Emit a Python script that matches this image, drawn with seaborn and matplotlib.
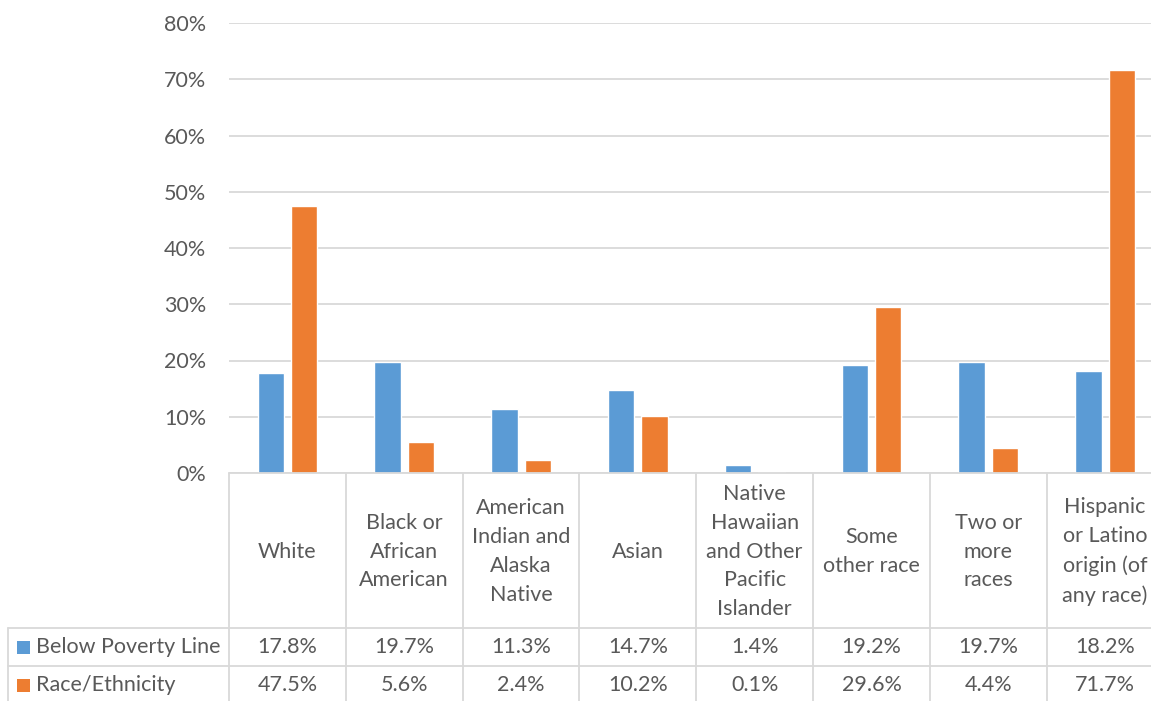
import matplotlib
matplotlib.use("Agg")
import matplotlib.pyplot as plt
from matplotlib.lines import Line2D
from matplotlib.patches import Rectangle
from matplotlib.ticker import PercentFormatter
import pandas as pd
import seaborn as sns

# Data
categories = [
    "White",
    "Black or\nAfrican\nAmerican",
    "American\nIndian and\nAlaska\nNative",
    "Asian",
    "Native\nHawaiian\nand Other\nPacific\nIslander",
    "Some\nother race",
    "Two or\nmore\nraces",
    "Hispanic\nor Latino\norigin (of\nany race)",
]
series_names = ["Below Poverty Line", "Race/Ethnicity"]
below_poverty = [17.8, 19.7, 11.3, 14.7, 1.4, 19.2, 19.7, 18.2]
race_ethnicity = [47.5, 5.6, 2.4, 10.2, 0.1, 29.6, 4.4, 71.7]
y_ticks = [0, 10, 20, 30, 40, 50, 60, 70, 80]

colors = ["#5B9BD5", "#ED7D31"]
text_color = "#595959"
line_color = "#D9D9D9"

df = pd.DataFrame({
    "category": categories * 2,
    "series": [series_names[0]] * len(categories) + [series_names[1]] * len(categories),
    "value": below_poverty + race_ethnicity,
})

sns.set_theme(style="white")
plt.rcParams["font.family"] = ["Lato", "DejaVu Sans"]
FS = 15.5

W, H = 1151, 701
fig = plt.figure(figsize=(W / 100, H / 100), dpi=100)
fig.patch.set_facecolor("white")

# Plot area (the last column runs past the right edge of the figure)
left_px, right_px, top_px, zero_px = 229, 1163.5, 23, 473
ax = fig.add_axes([left_px / W, 1 - zero_px / H, (right_px - left_px) / W, (zero_px - top_px) / H])

sns.barplot(
    data=df, x="category", y="value", hue="series", order=categories,
    hue_order=series_names, palette=colors, width=0.572, gap=0.21,
    saturation=1, legend=False, ax=ax,
)

ax.set_ylim(0, 80)
ax.set_xlim(-0.5, len(categories) - 0.5)
ax.set_yticks(y_ticks)
ax.yaxis.set_major_formatter(PercentFormatter(decimals=0))
ax.set_xticks([])
ax.set_xlabel("")
ax.set_ylabel("")
ax.tick_params(axis="y", length=0, pad=16.5, labelsize=FS, labelcolor=text_color)
for s in ax.spines.values():
    s.set_visible(False)
ax.yaxis.grid(True, color=line_color, linewidth=1.3)
ax.set_axisbelow(True)


def fy(py):
    return 1 - py / H


def fx(data_x):
    return (left_px + (data_x + 0.5) * (right_px - left_px) / len(categories)) / W


# Data table below the plot
row1_top, row2_top, row2_bot = 628, 666, 704
table_left = 8
lines = []
for i in range(len(categories) + 1):
    x = fx(i - 0.5)
    lines.append(Line2D([x, x], [fy(zero_px), fy(row2_bot)]))
lines.append(Line2D([table_left / W, table_left / W], [fy(row1_top), fy(row2_bot)]))
lines.append(Line2D([left_px / W, fx(len(categories) - 0.5)], [fy(zero_px), fy(zero_px)]))
for py in (row1_top, row2_top, row2_bot):
    lines.append(Line2D([table_left / W, fx(len(categories) - 0.5)], [fy(py), fy(py)]))
for ln in lines:
    ln.set_color(line_color)
    ln.set_linewidth(1.3)
    fig.add_artist(ln)

# Category labels
label_mid = (zero_px + row1_top) / 2 + 1
for i, cat in enumerate(categories):
    fig.text(fx(i), fy(label_mid), cat, ha="center", va="center",
             fontsize=FS, color=text_color, linespacing=1.56)

# Row headers with legend keys, and values
rows = [(below_poverty, row1_top, row2_top), (race_ethnicity, row2_top, row2_bot)]
for (vals, r_top, r_bot), name, col in zip(rows, series_names, colors):
    mid = (r_top + r_bot) / 2
    fig.add_artist(Rectangle((17 / W, fy(mid + 6.5)), 13 / W, 13 / H,
                             facecolor=col, edgecolor="none"))
    fig.text(36 / W, fy(mid), name, ha="left", va="center",
             fontsize=FS, color=text_color)
    for i, v in enumerate(vals):
        fig.text(fx(i), fy(mid), f"{v:.1f}%", ha="center", va="center",
                 fontsize=FS, color=text_color)

fig.savefig("out.png", dpi=100)
